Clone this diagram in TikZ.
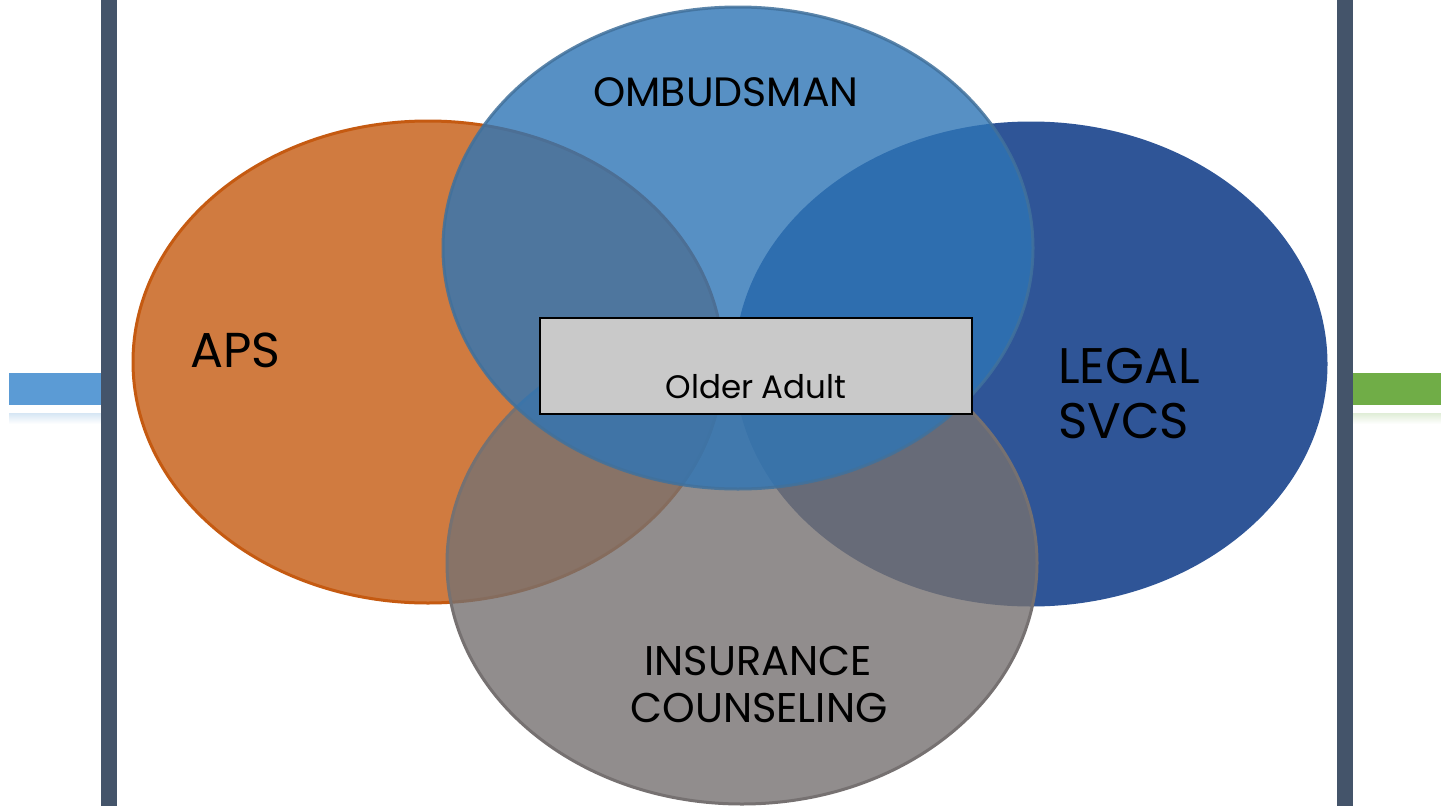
\documentclass[tikz,border=0pt]{standalone}
\usepackage{fontspec}
\setmainfont{Poppins}
\usetikzlibrary{shapes.geometric}
\definecolor{apsc}{HTML}{C55A11}
\definecolor{legalc}{HTML}{2F5597}
\definecolor{insc}{HTML}{767171}
\definecolor{ombc}{HTML}{2E75B6}
\definecolor{ombline}{HTML}{41719C}
\definecolor{barc}{HTML}{44546A}
\definecolor{sideblue}{HTML}{5B9BD5}
\definecolor{sidegreen}{HTML}{70AD47}
\definecolor{boxc}{HTML}{C9C9C9}
\begin{document}
\begin{tikzpicture}[x=1pt,y=-1pt,
  venn/.style={ellipse, inner sep=0pt, minimum width=590pt, minimum height=482pt, line width=3pt},
  lbl/.style={text=black, inner sep=0pt},
  older/.style={draw=black, line width=2pt, fill=boxc, minimum width=432pt, minimum height=96pt, inner sep=0pt}]
\useasboundingbox (0,0) rectangle (1441,806);
\fill[white] (0,0) rectangle (1441,806);
% side decorations
\fill[sideblue] (9,373) rectangle (101,405);
\shade[top color=sideblue!25, bottom color=white] (9,413) rectangle (101,424);
\fill[sidegreen] (1353,373) rectangle (1441,405);
\shade[top color=sidegreen!22, bottom color=white] (1353,413) rectangle (1441,424);
\fill[barc] (101,0) rectangle (117,806);
\fill[barc] (1337,0) rectangle (1353,806);
% circles
\node[venn, fill=apsc, fill opacity=0.8, draw=apsc] (aps) at (428,362) {};
\node[venn, fill=legalc, draw=legalc] (legal) at (1031,364) {};
\node[venn, fill=insc, fill opacity=0.8, draw=insc] (ins) at (742,563) {};
\node[venn, fill=ombc, fill opacity=0.8, draw=ombline, draw opacity=0.85] (omb) at (738,248) {};
% central box
\node[older] (box) at (756,366) {};
% labels
\node[lbl, font=\fontsize{41}{49}\selectfont, anchor=base] (tomb) at (726,106) {OMBUDSMAN};
\node[lbl, font=\fontsize{49}{56}\selectfont, anchor=base west] (taps) at (190,367) {APS};
\node[lbl, font=\fontsize{50}{58}\selectfont, anchor=base west] (tlegal) at (1058,383) {LEGAL};
\node[lbl, font=\fontsize{50}{58}\selectfont, anchor=base west] (tsvcs) at (1058,438) {SVCS};
\node[lbl, font=\fontsize{41.5}{50}\selectfont, anchor=base] (tins) at (758,675) {INSURANCE};
\node[lbl, font=\fontsize{41.5}{50}\selectfont, anchor=base] (tcoun) at (759,722) {COUNSELING};
\node[lbl, font=\fontsize{32.5}{40}\selectfont, anchor=base] (tolder) at (756,398) {Older Adult};
\end{tikzpicture}
\end{document}
